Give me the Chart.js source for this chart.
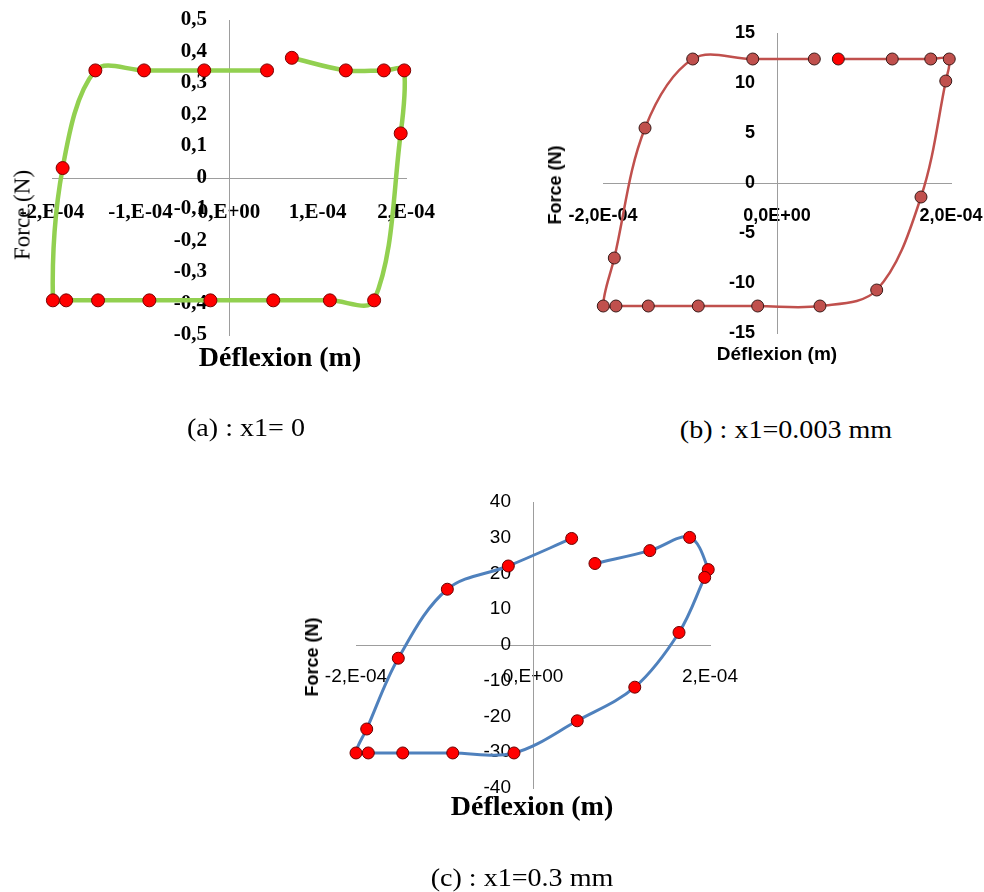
<!DOCTYPE html>
<html>
<head>
<meta charset="utf-8">
<script src="https://cdn.jsdelivr.net/npm/chart.js@4.4.1/dist/chart.umd.min.js"></script>
<style>
  html, body { margin: 0; padding: 0; background: #fff; overflow: hidden; }
  body { position: relative; width: 984px; height: 892px; }
  canvas { position: absolute; }
  .t { position: absolute; white-space: nowrap; color: #000; transform: translate(-50%, -50%); line-height: 1; }
  .serif { font-family: "Liberation Serif", "Times New Roman", serif; }
  .sans { font-family: "Liberation Sans", Arial, sans-serif; }
  .rot { transform: translate(-50%, -50%) rotate(-90deg); }
  .cap { font-size: 26px; transform: translate(-50%, -50%) scaleX(1.08); }
</style>
</head>
<body>
<canvas id="chartA" width="440" height="380" style="left:0px;top:0px;width:440px;height:380px"></canvas>
<canvas id="chartB" width="470" height="380" style="left:530px;top:0px;width:470px;height:380px"></canvas>
<canvas id="chartC" width="460" height="350" style="left:290px;top:470px;width:460px;height:350px"></canvas>

<div class="t serif" style="left:280px;top:357px;font-size:28px;font-weight:bold">Déflexion (m)</div>
<div class="t serif rot" style="left:22px;top:215px;font-size:23px">Force (N)</div>
<div class="t sans" style="left:777px;top:353px;font-size:19px;font-weight:bold">Déflexion (m)</div>
<div class="t sans rot" style="left:555px;top:185px;font-size:18px;font-weight:bold">Force (N)</div>
<div class="t serif" style="left:532px;top:806px;font-size:28px;font-weight:bold">Déflexion (m)</div>
<div class="t sans rot" style="left:312px;top:657px;font-size:18px;font-weight:bold">Force (N)</div>

<div class="t serif cap" style="left:246px;top:428px">(a) : x1= 0</div>
<div class="t serif cap" style="left:786px;top:430px">(b) : x1=0.003 mm</div>
<div class="t serif cap" style="left:522px;top:878px">(c) : x1=0.3 mm</div>

<script>
// (a) x1 = 0
var deflexionA = [0.71e-4, 1.32e-4, 1.75e-4, 1.98e-4, 1.94e-4, 1.64e-4, 1.14e-4, 0.50e-4, -0.21e-4, -0.90e-4, -1.48e-4, -1.84e-4, -1.99e-4, -1.88e-4, -1.51e-4, -0.96e-4, -0.28e-4, 0.43e-4];
var forceA = [0.38, 0.34, 0.34, 0.34, 0.14, -0.39, -0.39, -0.39, -0.39, -0.39, -0.39, -0.39, -0.39, 0.03, 0.34, 0.34, 0.34, 0.34];
var xTicksA = [-2e-4, -1e-4, 0, 1e-4, 2e-4];
var xLabelsA = ["-2,E-04", "-1,E-04", "0,E+00", "1,E-04", "2,E-04"];
var yTicksA = [-0.5, -0.4, -0.3, -0.2, -0.1, 0, 0.1, 0.2, 0.3, 0.4, 0.5];
var yLabelsA = ["-0,5", "-0,4", "-0,3", "-0,2", "-0,1", "0", "0,1", "0,2", "0,3", "0,4", "0,5"];

// (b) x1 = 0.003 mm
var deflexionB = [0.705e-4, 1.325e-4, 1.767e-4, 1.98e-4, 1.94e-4, 1.655e-4, 1.146e-4, 0.494e-4, -0.222e-4, -0.905e-4, -1.479e-4, -1.851e-4, -1.997e-4, -1.87e-4, -1.517e-4, -0.969e-4, -0.279e-4, 0.429e-4];
var forceB = [12.4, 12.4, 12.4, 12.4, 10.2, -1.4, -10.7, -12.3, -12.3, -12.3, -12.3, -12.3, -12.3, -7.5, 5.5, 12.4, 12.4, 12.4];
var xTicksB = [-2e-4, 0, 2e-4];
var xLabelsB = ["-2,0E-04", "0,0E+00", "2,0E-04"];
var yTicksB = [-15, -10, -5, 0, 5, 10, 15];
var yLabelsB = ["-15", "-10", "-5", "0", "5", "10", "15"];

// (c) x1 = 0.3 mm
var deflexionC = [0.70e-4, 1.32e-4, 1.77e-4, 1.98e-4, 1.94e-4, 1.65e-4, 1.15e-4, 0.50e-4, -0.215e-4, -0.907e-4, -1.472e-4, -1.861e-4, -2.0e-4, -1.879e-4, -1.522e-4, -0.968e-4, -0.279e-4, 0.437e-4];
var forceC = [22.8, 26.4, 30.1, 21.1, 18.9, 3.5, -11.8, -21.2, -30.2, -30.2, -30.2, -30.2, -30.2, -23.5, -3.7, 15.6, 22.1, 29.8];
var xTicksC = [-2e-4, 0, 2e-4];
var xLabelsC = ["-2,E-04", "0,E+00", "2,E-04"];
var yTicksC = [-40, -30, -20, -10, 0, 10, 20, 30, 40];
var yLabelsC = ["-40", "-30", "-20", "-10", "0", "10", "20", "30", "40"];

function toPoints(xs, ys) {
    return xs.map(function (x, i) { return { x: x, y: ys[i] }; });
}

// both axes cross at 0, which is the middle of each range, so "center" works
function makeAxis(vals, labels, font, gap) {
    return {
        type: "linear",
        position: "center",
        min: vals[0],
        max: vals[vals.length - 1],
        afterBuildTicks: function (scale) {
            scale.ticks = vals.map(function (v) { return { value: v }; });
        },
        grid: { display: true, color: "rgba(0,0,0,0)", drawTicks: true, tickLength: gap },
        border: { display: true, color: "#9d9d9d", width: 1 },
        ticks: {
            autoSkip: false,
            maxRotation: 0,
            padding: 0,
            color: "#000",
            font: font,
            callback: function (v, i) { return labels[i]; }
        }
    };
}

function makeChart(id, xs, ys, o) {
    new Chart(document.getElementById(id), {
        type: "scatter",
        data: {
            datasets: [{
                data: toPoints(xs, ys),
                showLine: true,
                tension: 0.35,
                borderColor: o.line,
                borderWidth: o.lineWidth,
                pointRadius: o.radius,
                pointBackgroundColor: o.markerFill,
                pointBorderColor: o.markerBorder,
                pointBorderWidth: 1,
                clip: false
            }]
        },
        options: {
            responsive: false,
            animation: false,
            layout: { padding: o.padding },
            scales: {
                x: makeAxis(o.xTicks, o.xLabels, o.font, o.xGap),
                y: makeAxis(o.yTicks, o.yLabels, o.font, 22)
            },
            plugins: {
                legend: { display: false },
                tooltip: { enabled: false }
            }
        }
    });
}

makeChart("chartA", deflexionA, forceA, {
    xTicks: xTicksA, xLabels: xLabelsA, yTicks: yTicksA, yLabels: yLabelsA,
    line: "#92D050", lineWidth: 4.5, radius: 6.5,
    markerFill: "#FF0000", markerBorder: "#7a0000",
    font: { family: "'Liberation Serif', 'Times New Roman', serif", size: 21, weight: "bold" },
    xGap: 22,
    padding: { left: 52, right: 34, top: 20, bottom: 45 }
});

makeChart("chartB", deflexionB, forceB, {
    xTicks: xTicksB, xLabels: xLabelsB, yTicks: yTicksB, yLabels: yLabelsB,
    line: "#C0504D", lineWidth: 2.5, radius: 6,
    markerFill: function (ctx) { return ctx.dataIndex === 0 ? "#FF0000" : "#C0504D"; },
    markerBorder: "#3a1a18",
    font: { family: "'Liberation Sans', Arial, sans-serif", size: 18, weight: "bold" },
    xGap: 22,
    padding: { left: 73, right: 49, top: 33, bottom: 47 }
});

makeChart("chartC", deflexionC, forceC, {
    xTicks: xTicksC, xLabels: xLabelsC, yTicks: yTicksC, yLabels: yLabelsC,
    line: "#4F81BD", lineWidth: 3, radius: 6,
    markerFill: "#FF0000", markerBorder: "#6a0000",
    font: { family: "'Liberation Sans', Arial, sans-serif", size: 19 },
    xGap: 20,
    padding: { left: 66, right: 40, top: 32, bottom: 32 }
});
</script>
</body>
</html>
